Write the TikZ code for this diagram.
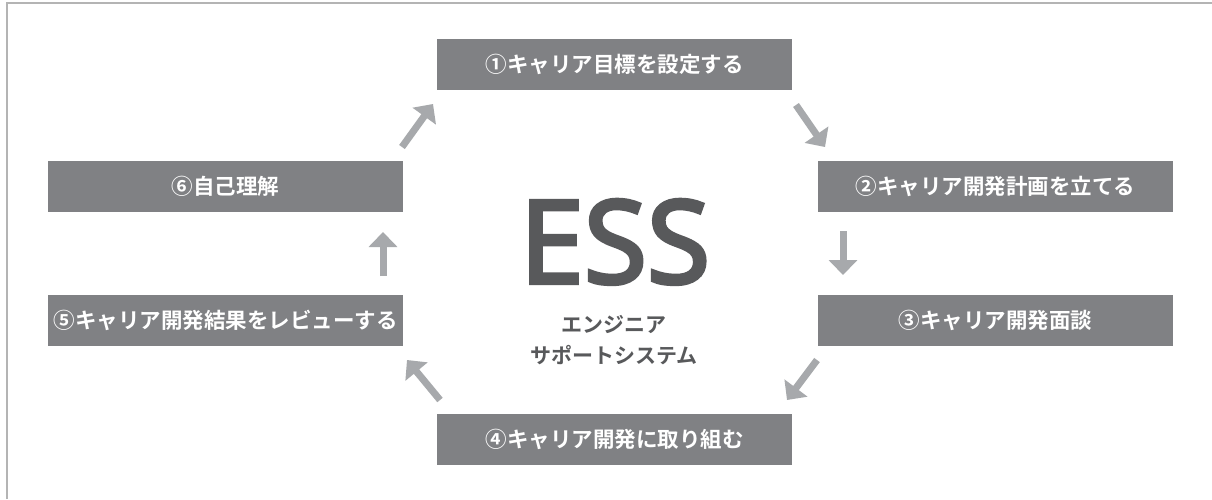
\documentclass[tikz,border=0pt]{standalone}
\usepackage{fontspec}
\usetikzlibrary{arrows.meta}
\newfontfamily\jpbold{Noto Sans CJK JP Bold}
\newfontfamily\essfont[FakeBold=3.5]{Open Sans}
\definecolor{boxgray}{HTML}{808184}
\definecolor{arrowgray}{HTML}{A7A9AC}
\definecolor{darktext}{HTML}{58595B}
\definecolor{framegray}{HTML}{B4B4B4}
\tikzset{
  stepbox/.style={fill=boxgray, draw=none, minimum width=355pt, minimum height=51pt,
    inner sep=0pt, text=white, font=\jpbold\fontsize{21.5}{24}\selectfont},
  flowarrow/.style={draw=arrowgray, line width=7pt,
    -{Triangle[width=28pt,length=15pt]}, arrowgray}
}
\begin{document}
\begin{tikzpicture}[x=1pt,y=-1pt]
\useasboundingbox (0,0) rectangle (1212,499);
\fill[white] (0,0) rectangle (1212,499);
\draw[framegray, line width=1.5pt] (7,499) -- (7,3) -- (1212,3);

\node[stepbox] (b1) at (614.5,64.5) {①キャリア目標を設定する};
\node[stepbox] (b2) at (995.5,186.5) {②キャリア開発計画を立てる};
\node[stepbox] (b3) at (995.5,320.5) {③キャリア開発面談};
\node[stepbox] (b4) at (614.5,439.5) {④キャリア開発に取り組む};
\node[stepbox] (b5) at (225.5,320.5) {⑤キャリア開発結果をレビューする};
\node[stepbox] (b6) at (225.5,186.5) {⑥自己理解};

\node[anchor=base, text=darktext, inner sep=0pt, font=\essfont\fontsize{115}{115}\selectfont] (ess) at (615,283) {ESS};
\node[text=darktext, inner sep=0pt, font=\jpbold\fontsize{21}{24}\selectfont] (sub1) at (614,325) {エンジニア};
\node[text=darktext, inner sep=0pt, font=\jpbold\fontsize{21}{24}\selectfont] (sub2) at (614,355) {サポートシステム};

\coordinate (a61s) at (402,147); \coordinate (a61e) at (433,104);
\coordinate (a12s) at (796,105); \coordinate (a12e) at (825,147);
\coordinate (a23s) at (843,231); \coordinate (a23e) at (843,275);
\coordinate (a34s) at (817,360); \coordinate (a34e) at (787,400);
\coordinate (a45s) at (440,400); \coordinate (a45e) at (407,360);
\coordinate (a56s) at (383,276); \coordinate (a56e) at (383,232);

\draw[flowarrow] (a61s) -- (a61e);
\draw[flowarrow] (a12s) -- (a12e);
\draw[flowarrow] (a23s) -- (a23e);
\draw[flowarrow] (a34s) -- (a34e);
\draw[flowarrow] (a45s) -- (a45e);
\draw[flowarrow] (a56s) -- (a56e);
\end{tikzpicture}
\end{document}
